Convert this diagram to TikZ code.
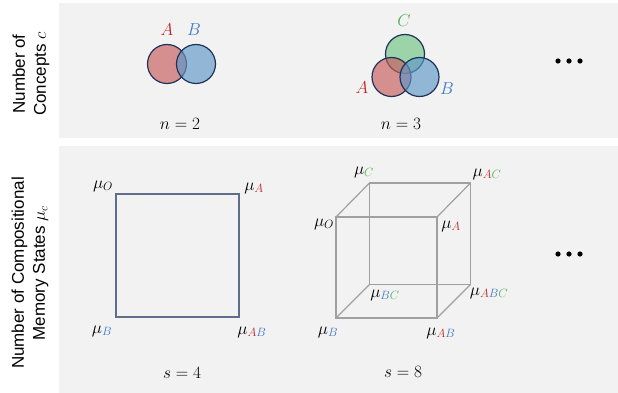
\documentclass[tikz,border=0pt]{standalone}
\usepackage{fontspec}
\setsansfont{Liberation Sans}
\usetikzlibrary{positioning}
\definecolor{colA}{RGB}{192,40,40}
\definecolor{colB}{RGB}{60,120,200}
\definecolor{colC}{RGB}{80,175,80}
\definecolor{fillA}{RGB}{200,90,90}
\definecolor{fillB}{RGB}{95,150,200}
\definecolor{fillC}{RGB}{110,195,130}
\definecolor{panel}{RGB}{242,242,242}
\definecolor{rim}{RGB}{30,50,90}
\definecolor{sqline}{RGB}{95,110,140}
\definecolor{cubeline}{RGB}{160,160,160}
\newcommand{\ltA}{\textcolor{colA}{A}}
\newcommand{\ltB}{\textcolor{colB}{B}}
\newcommand{\ltC}{\textcolor{colC}{C}}

\begin{document}
\begin{tikzpicture}[x=1pt, y=-1pt,
    pnl/.style={fill=panel, draw=none},
    axl/.style={font=\sffamily\fontsize{17}{21}\selectfont, align=center, rotate=90},
    mth/.style={font=\fontsize{18}{20}\selectfont, inner sep=0pt},
    st/.style={font=\fontsize{17}{19}\selectfont, inner sep=0pt},
    venn/.style={circle, draw=rim, line width=1.2pt, minimum size=39pt, inner sep=0pt,
                 fill opacity=0.65},
    sq/.style={draw=sqline, line width=1.3pt},
    cb/.style={draw=cubeline, line width=1.2pt},
  ]
    \useasboundingbox (0,0) rectangle (618,393);

    % Panels and row titles
    \fill[pnl] (59,3) rectangle (618,138);
    \fill[pnl] (59,146) rectangle (618,393);
    \node[axl] (ttop) at (31,74) {Number of\\Concepts $c$};
    \node[axl] (tbot) at (30,273) {Number of Compositional\\Memory States $\mu_c$};

    % Two concepts
    \node[venn, fill=fillA] (a2) at (167,64) {};
    \node[venn, fill=fillB] (b2) at (196,64) {};
    \node[mth] (la2) at (167,30) {$\ltA$};
    \node[mth] (lb2) at (194,30) {$\ltB$};
    \node[mth] (n2) at (180,124) {$n=2$};

    % Three concepts
    \node[venn, fill=fillC] (c3) at (405,54) {};
    \node[venn, fill=fillA] (a3) at (391.5,77) {};
    \node[venn, fill=fillB] (b3) at (419.5,77) {};
    \node[mth] (lc3) at (404,21) {$\ltC$};
    \node[mth] (la3) at (362,88) {$\ltA$};
    \node[mth] (lb3) at (447,89) {$\ltB$};
    \node[mth] (n3) at (401,124) {$n=3$};

    % Square
    \coordinate (sO) at (116,194);
    \coordinate (sA) at (239,194);
    \coordinate (sB) at (116,317);
    \coordinate (sAB) at (239,317);
    \draw[sq] (sO) -- (sA) -- (sAB) -- (sB) -- cycle;
    \node[st] (msO) at (103,186) {$\mu_O$};
    \node[st] (msA) at (254,188) {$\mu_{\ltA}$};
    \node[st] (msB) at (102,331) {$\mu_{\ltB}$};
    \node[st] (msAB) at (252,332) {$\mu_{\ltA\ltB}$};
    \node[mth] (s4) at (182,373) {$s=4$};

    % Cube
    \coordinate (cO) at (336,217);
    \coordinate (cA) at (437,217);
    \coordinate (cB) at (336,318);
    \coordinate (cAB) at (437,318);
    \coordinate (cC) at (369.5,183);
    \coordinate (cAC) at (470.5,183);
    \coordinate (cBC) at (369.5,284.5);
    \coordinate (cABC) at (470.5,284.5);
    \draw[cb] (cC) -- (cAC) -- (cABC) -- (cBC) -- cycle;
    \draw[cb] (cO) -- (cA) -- (cAB) -- (cB) -- cycle;
    \draw[cb] (cO) -- (cC) (cA) -- (cAC) (cB) -- (cBC) (cAB) -- (cABC);
    \node[st] (mcC) at (364,172) {$\mu_{\ltC}$};
    \node[st] (mcAC) at (487,174) {$\mu_{\ltA\ltC}$};
    \node[st] (mcO) at (324,224) {$\mu_O$};
    \node[st] (mcA) at (451,226) {$\mu_{\ltA}$};
    \node[st] (mcBC) at (385,295) {$\mu_{\ltB\ltC}$};
    \node[st] (mcABC) at (489,293) {$\mu_{\ltA\ltB\ltC}$};
    \node[st] (mcB) at (328,332) {$\mu_{\ltB}$};
    \node[st] (mcAB) at (441,333) {$\mu_{\ltA\ltB}$};
    \node[mth] (s8) at (403,372) {$s=8$};

    % More
    \foreach \dx in {-11,0,11} {
      \fill (569+\dx,61) circle (2.6);
      \fill (569+\dx,254) circle (2.6);
    }
  \end{tikzpicture}
\end{document}
